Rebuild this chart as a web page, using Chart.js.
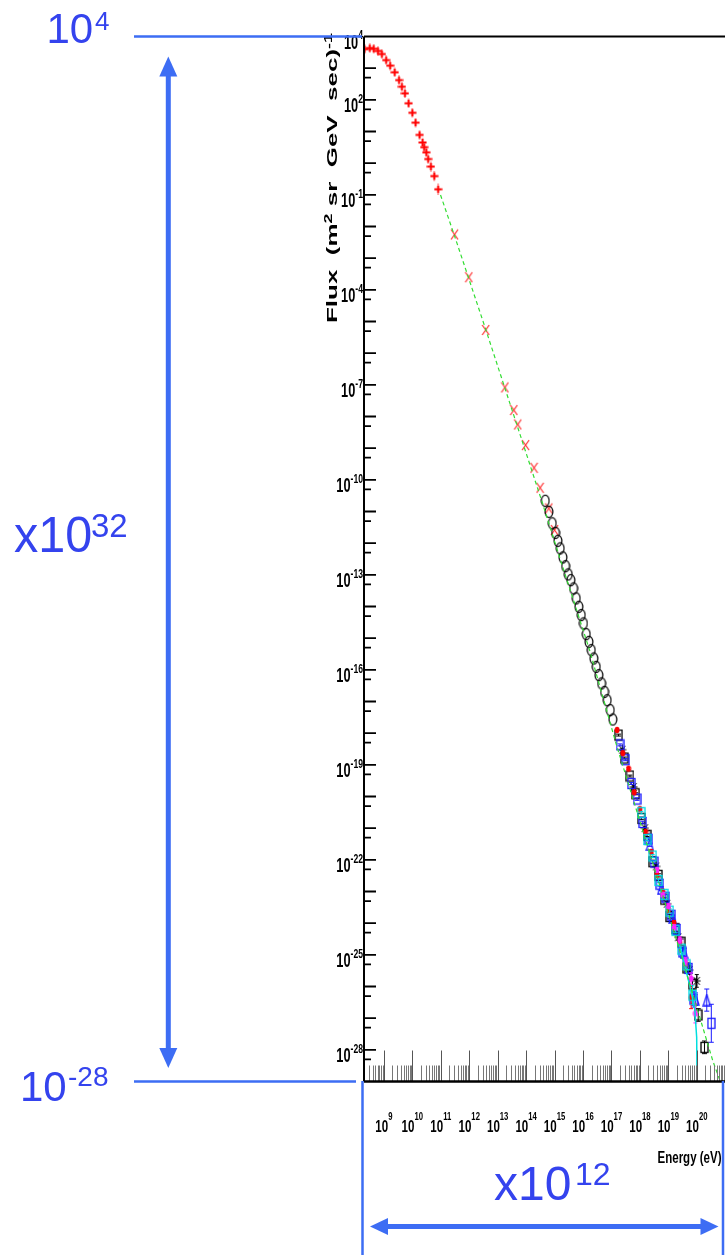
<!DOCTYPE html>
<html>
<head>
<meta charset="utf-8">
<script src="https://cdn.jsdelivr.net/npm/chart.js@4.4.1/dist/chart.umd.min.js"></script>
<style>
  html, body { margin: 0; padding: 0; background: #fff; overflow: hidden; }
  #wrap { position: relative; width: 725px; height: 1255px; }
</style>
</head>
<body>
<div id="wrap"><canvas id="c" width="725" height="1255"></canvas></div>
<script>
// axis ranges
const X_MIN = 2e8, X_MAX = 9.8e20;
const Y_MIN = 1e-29, Y_MAX = 1e4;
const xLabelExps = [9, 10, 11, 12, 13, 14, 15, 16, 17, 18, 19, 20];
const yLabelExps = [4, 2, -1, -4, -7, -10, -13, -16, -19, -22, -25, -28];

// low energy direct measurements (red +)
const lowE = [2.1e8, 3.2e8, 4.4e8, 6.2e8, 8.5e8, 1.2e9, 1.66e9, 2.4e9, 3.4e9, 4.3e9, 5.5e9,
  7.4e9, 1.0e10, 1.3e10, 1.8e10, 2.3e10, 2.6e10, 3.1e10, 3.6e10, 4.5e10, 5.9e10, 8.1e10];
const lowF = [4.0e3, 4.3e3, 4.1e3, 3.5e3, 2.8e3, 1.8e3, 1.2e3, 740, 420, 260, 160,
  78, 39, 19, 7.8, 4.5, 3.2, 2.2, 1.35, 0.78, 0.39, 0.15];
const lowErr = [0.15, 0.15, 0.15, 0.15, 0.15, 0.15, 0.15, 0.15, 0.15, 0.15, 0.15,
  0.15, 0.15, 0.15, 0.15, 0.15, 0.15, 0.15, 0.15, 0.16, 0.16, 0.18];

// red x
const xMarkE = [3.05e11, 9.7e11, 3.8e12, 1.8e13, 3.7e13, 5.1e13, 9.6e13, 1.9e14, 3.1e14, 6.3e14, 1.0e15];
const xMarkF = [5.6e-3, 2.5e-4, 5.4e-6, 8.3e-8, 1.6e-8, 5.6e-9, 1.25e-9, 2.4e-10, 5.6e-11, 1.25e-11, 2.6e-12];

// air shower, open circles
const circE = [4.71e14, 6.31e14, 8.30e14, 1.08e15, 1.31e15, 1.58e15, 1.96e15, 2.44e15, 3.03e15, 3.74e15,
  4.66e15, 5.79e15, 7.14e15, 8.67e15, 1.04e16, 1.30e16, 1.61e16, 1.95e16, 2.40e16, 2.92e16,
  3.61e16, 4.49e16, 5.71e16, 7.11e16, 9.08e16, 1.12e17];
const circF = [2.18e-11, 9.8e-12, 4.22e-12, 2.12e-12, 1.19e-12, 6.84e-13, 3.55e-13, 1.88e-13, 1.03e-13, 6.8e-14,
  3.72e-14, 1.80e-14, 9.8e-15, 5.35e-15, 2.92e-15, 1.34e-15, 7.66e-16, 4.19e-16, 2.29e-16, 1.24e-16,
  6.8e-17, 3.72e-17, 2.02e-17, 1.10e-17, 5.33e-18, 2.71e-18];

// highest energies, several experiments
const blkSqE = [1.78e17, 2.82e17, 4.47e17, 7.08e17, 1.12e18, 1.78e18, 2.82e18, 4.47e18, 7.08e18,
  1.12e19, 1.78e19, 2.82e19, 4.47e19, 7.08e19, 1.12e20, 1.86e20];
const blkSqF = [8.7e-19, 1.64e-19, 4.42e-20, 1.22e-20, 2.04e-21, 5.96e-22, 8.7e-23, 3.24e-23, 5.75e-24,
  1.62e-24, 6.68e-25, 2.51e-25, 3.85e-26, 1.19e-26, 1.26e-27, 1.2e-28];
const blkSqErr = [0.03, 0.03, 0.03, 0.03, 0.04, 0.04, 0.05, 0.05, 0.06, 0.07, 0.08, 0.1, 0.12, 0.15, 0.2, 0.2];

const blkStarE = [2.4e17, 6.0e17, 1.5e18, 3.7e18, 9.0e18, 2.2e19, 5.5e19, 1.0e20];
const blkStarF = [3.0e-19, 2.0e-20, 1.0e-21, 6.2e-23, 4.1e-24, 3.6e-25, 3.3e-26, 1.5e-26];
const blkStarErr = [0.03, 0.03, 0.04, 0.05, 0.07, 0.09, 0.13, 0.2];

const bluSqE = [2.0e17, 3.16e17, 5.01e17, 7.94e17, 1.26e18, 2.0e18, 3.16e18, 5.01e18, 7.94e18,
  1.26e19, 2.0e19, 3.16e19, 5.01e19, 7.94e19, 3.24e20];
const bluSqF = [4.27e-19, 1.45e-19, 2.57e-20, 8.3e-21, 1.51e-21, 4.47e-22, 8.5e-23, 1.70e-23, 6.6e-24,
  1.78e-24, 6.3e-25, 1.23e-25, 3.72e-26, 3.98e-27, 6.9e-28];
const bluSqErr = [0.03, 0.03, 0.03, 0.04, 0.04, 0.05, 0.05, 0.06, 0.08, 0.08, 0.1, 0.12, 0.15, 0.25, 0.6];

const bluTriE = [2.24e18, 5.62e18, 1.41e19, 3.55e19, 8.91e19, 2.24e20];
const bluTriF = [2.99e-22, 1.23e-23, 1.5e-24, 1.19e-25, 3.98e-27, 3.72e-27];
const bluTriErr = [0.05, 0.06, 0.08, 0.12, 0.2, 0.35];

const redE = [1.58e17, 2.51e17, 3.98e17, 6.31e17, 1.0e18, 1.58e18, 2.51e18, 3.98e18, 6.31e18,
  1.0e19, 1.58e19, 2.51e19, 3.98e19, 6.31e19];
const redF = [1.26e-18, 2.34e-19, 7.59e-20, 1.35e-20, 3.98e-21, 7.59e-22, 1.78e-22, 3.39e-23, 1.0e-23,
  2.57e-24, 1.0e-24, 2.34e-25, 5.01e-26, 4.47e-27];
const redErr = [0.03, 0.03, 0.03, 0.03, 0.04, 0.04, 0.05, 0.05, 0.06, 0.07, 0.08, 0.1, 0.15, 0.35];

const cyanE = [1.12e18, 1.78e18, 2.82e18, 4.47e18, 7.08e18, 1.12e19, 1.78e19, 2.82e19, 4.47e19, 7.08e19];
const cyanF = [3.09e-21, 4.42e-22, 1.32e-22, 2.24e-23, 8.13e-24, 2.4e-24, 5.96e-25, 1.51e-25, 4.84e-26, 5.31e-27];
const cyanErr = [0.04, 0.04, 0.05, 0.05, 0.06, 0.07, 0.08, 0.1, 0.15, 0.3];

const magE = [3.98e18, 6.31e18, 1.0e19, 1.58e19, 2.51e19, 3.98e19, 6.31e19, 8.91e19];
const magF = [4.79e-23, 7.94e-24, 3.47e-24, 7.41e-25, 2.95e-25, 6.31e-26, 1.78e-26, 1.41e-27];
const magErr = [0.05, 0.06, 0.07, 0.08, 0.1, 0.12, 0.18, 0.3];

// model curves
const fitE = [9.8e10, 3.06e11, 3.76e12, 3.2e14, 1.5e15, 1.7e16, 1.5e17, 1.34e18, 2.5e19, 3.6e20, 7.4e20];
const fitF = [9.9e-2, 5.0e-3, 5.8e-6, 2.85e-11, 3.6e-13, 4.2e-16, 4.2e-19, 7.0e-22, 1.4e-25, 4.7e-29, 7.7e-30];
const cutE = [2.48e19, 5.6e19, 8.5e19, 9.9e19, 1.02e20, 1.03e20];
const cutF = [2.0e-25, 1.1e-26, 1.9e-27, 2.5e-28, 1e-29, 1e-30];

const zip = (xs, ys) => xs.map((x, i) => ({ x: x, y: ys[i] }));

function marker(w, h, draw) {
  const c = document.createElement("canvas");
  c.width = w;
  c.height = h;
  draw(c.getContext("2d"));
  return c;
}
const ellipseMk = marker(10, 14, (g) => {
  g.strokeStyle = "#000"; g.lineWidth = 1.2;
  g.beginPath(); g.ellipse(5, 7, 3.9, 5.7, 0, 0, Math.PI * 2); g.stroke();
});
const xMk = marker(9, 12, (g) => {
  g.strokeStyle = "#ff2a2a"; g.lineWidth = 1.2;
  g.beginPath(); g.moveTo(1, 1); g.lineTo(8, 11); g.moveTo(8, 1); g.lineTo(1, 11); g.stroke();
});
const plusMk = marker(9, 9, (g) => {
  g.strokeStyle = "#ff0000"; g.lineWidth = 1.8;
  g.beginPath(); g.moveTo(0.5, 4.5); g.lineTo(8.5, 4.5); g.moveTo(4.5, 1); g.lineTo(4.5, 8); g.stroke();
});
const squareMk = (col) => marker(9, 13, (g) => {
  g.strokeStyle = col; g.lineWidth = 1.3; g.strokeRect(1, 1.5, 7, 10);
});
const triMk = (col) => marker(9, 13, (g) => {
  g.strokeStyle = col; g.lineWidth = 1.3;
  g.beginPath(); g.moveTo(4.5, 1); g.lineTo(8, 12); g.lineTo(1, 12); g.closePath(); g.stroke();
});
const dotMk = (col) => marker(6, 8, (g) => {
  g.fillStyle = col;
  g.beginPath(); g.ellipse(3, 4, 2.4, 3.2, 0, 0, Math.PI * 2); g.fill();
});
const starMk = marker(9, 12, (g) => {
  g.strokeStyle = "#000"; g.lineWidth = 1;
  g.beginPath();
  g.moveTo(4.5, 0.5); g.lineTo(4.5, 11.5);
  g.moveTo(0.5, 6); g.lineTo(8.5, 6);
  g.moveTo(1.5, 2); g.lineTo(7.5, 10);
  g.moveTo(7.5, 2); g.lineTo(1.5, 10);
  g.stroke();
});

// vertical error bars, drawn under each dataset's markers
const errorBars = {
  id: "errorBars",
  beforeDatasetDraw(chart, args) {
    const ds = chart.data.datasets[args.index];
    if (!ds.err) return;
    const { ctx, chartArea: a } = chart;
    const y = chart.scales.y;
    ctx.save();
    ctx.beginPath();
    ctx.rect(a.left, a.top, a.right - a.left, a.bottom - a.top);
    ctx.clip();
    ctx.strokeStyle = ds.errColor;
    ctx.lineWidth = ds.errWidth || 1;
    ds.data.forEach((p, i) => {
      const px = args.meta.data[i].x;
      const t = y.getPixelForValue(p.y * Math.pow(10, ds.err[i]));
      const b = y.getPixelForValue(p.y / Math.pow(10, ds.err[i]));
      ctx.beginPath();
      ctx.moveTo(px, t); ctx.lineTo(px, b);
      if (ds.errCap) {
        ctx.moveTo(px - ds.errCap, t); ctx.lineTo(px + ds.errCap, t);
        ctx.moveTo(px - ds.errCap, b); ctx.lineTo(px + ds.errCap, b);
      }
      ctx.stroke();
    });
    ctx.restore();
  },
};

// squeezed text helper: parts [{t, size, dy}]
function partsWidth(ctx, parts, weight, sx) {
  let w = 0;
  parts.forEach((p) => {
    ctx.font = weight + " " + p.size + "px 'Liberation Sans', Arial, sans-serif";
    w += ctx.measureText(p.t).width * sx;
  });
  return w;
}
function drawParts(ctx, parts, x, y, weight, sx) {
  parts.forEach((p) => {
    ctx.font = weight + " " + p.size + "px 'Liberation Sans', Arial, sans-serif";
    ctx.save();
    ctx.translate(x, y + p.dy);
    ctx.scale(sx, 1);
    ctx.fillText(p.t, 0, 0);
    ctx.restore();
    x += ctx.measureText(p.t).width * sx;
  });
}

const frame = {
  id: "frame",
  afterDraw(chart) {
    const { ctx, chartArea: a } = chart;
    const xs = chart.scales.x, ys = chart.scales.y;
    ctx.save();

    // x ticks (pointing up)
    for (let e = 8; e <= 20; e++) {
      for (let m = 1; m <= 9; m++) {
        const v = m * Math.pow(10, e);
        if (v < X_MIN || v > X_MAX) continue;
        const px = Math.round(xs.getPixelForValue(v)) + 0.5;
        ctx.strokeStyle = m === 1 ? "#555" : "#777";
        ctx.lineWidth = 1;
        ctx.beginPath();
        ctx.moveTo(px, a.bottom);
        ctx.lineTo(px, a.bottom - (m === 1 ? 31 : 16));
        ctx.stroke();
      }
    }
    // y ticks (pointing right)
    ctx.strokeStyle = "#000";
    ctx.lineWidth = 1.8;
    for (let e = -28; e <= 3; e++) {
      const py = ys.getPixelForValue(Math.pow(10, e));
      const pm = ys.getPixelForValue(5 * Math.pow(10, e - 1));
      ctx.beginPath();
      ctx.moveTo(a.left, py); ctx.lineTo(a.left + 12, py);
      ctx.moveTo(a.left, pm); ctx.lineTo(a.left + 7, pm);
      ctx.stroke();
    }

    // frame lines
    ctx.strokeStyle = "#000";
    ctx.lineWidth = 2;
    ctx.beginPath();
    ctx.moveTo(a.left, a.top); ctx.lineTo(a.right, a.top);
    ctx.moveTo(a.left, a.top); ctx.lineTo(a.left, a.bottom);
    ctx.stroke();
    ctx.lineWidth = 2.5;
    ctx.beginPath();
    ctx.moveTo(a.left, a.bottom); ctx.lineTo(a.right, a.bottom);
    ctx.stroke();

    // y labels
    ctx.fillStyle = "#000";
    ctx.textBaseline = "middle";
    yLabelExps.forEach((e) => {
      const py = ys.getPixelForValue(Math.pow(10, e));
      const ex = String(e);
      const w10 = partsWidth(ctx, [{ t: "10", size: 20 }], "bold", 0.64);
      const wE = partsWidth(ctx, [{ t: ex, size: 13.5 }], "bold", 0.64);
      const x0 = 363 - w10 - wE;
      drawParts(ctx, [{ t: "10", size: 20, dy: 7 }], x0, py, "bold", 0.64);
      drawParts(ctx, [{ t: ex, size: 13.5, dy: -1 }], x0 + w10, py, "bold", 0.64);
    });

    // x labels
    xLabelExps.forEach((e) => {
      const px = xs.getPixelForValue(Math.pow(10, e));
      const ex = String(e);
      const w10 = partsWidth(ctx, [{ t: "10", size: 16.5 }], "bold", 0.7);
      const wE = partsWidth(ctx, [{ t: ex, size: 11 }], "bold", 0.7);
      const x0 = px - (w10 + wE) / 2;
      drawParts(ctx, [{ t: "10", size: 16.5, dy: 0 }], x0, 1127.5, "bold", 0.7);
      drawParts(ctx, [{ t: ex, size: 11, dy: 0 }], x0 + w10, 1117, "bold", 0.7);
    });

    // axis titles
    ctx.textBaseline = "alphabetic";
    drawParts(ctx, [{ t: "Energy (eV)", size: 16, dy: 0 }], 657.5, 1163, "bold", 0.72);

    const title = [
      { t: "Flux  (m", size: 14.5, dy: 0 },
      { t: "2", size: 10, dy: -5 },
      { t: " sr  GeV  sec)", size: 14.5, dy: 0 },
      { t: "-1", size: 10, dy: -5 },
    ];
    const tw = partsWidth(ctx, title, "bold", 1);
    ctx.save();
    ctx.translate(336.5, 323);
    ctx.rotate(-Math.PI / 2);
    ctx.scale(290 / tw, 1);
    drawParts(ctx, title, 0, 0, "bold", 1);
    ctx.restore();

    ctx.restore();
  },
};

// blue slide annotations
function arrowHead(ctx, x, y, dx, dy, len, half) {
  // tip at (x,y), direction (dx,dy) pointing to the tip
  ctx.beginPath();
  ctx.moveTo(x, y);
  ctx.lineTo(x - dx * len - dy * half, y - dy * len + dx * half);
  ctx.lineTo(x - dx * len + dy * half, y - dy * len - dx * half);
  ctx.closePath();
  ctx.fill();
}
const notes = {
  id: "notes",
  afterDraw(chart) {
    const ctx = chart.ctx;
    const line = "#3d6df4", txt = "#3443ee";
    ctx.save();
    ctx.strokeStyle = line;
    ctx.fillStyle = line;
    ctx.lineWidth = 2.5;
    ctx.beginPath();
    ctx.moveTo(134, 36.5); ctx.lineTo(362, 36.5);
    ctx.moveTo(134, 1081.5); ctx.lineTo(356, 1081.5);
    ctx.moveTo(362.5, 1081); ctx.lineTo(362.5, 1255);
    ctx.moveTo(723, 1081); ctx.lineTo(723, 1255);
    ctx.stroke();

    // vertical double arrow
    ctx.lineWidth = 5;
    ctx.beginPath();
    ctx.moveTo(168.3, 70); ctx.lineTo(168.3, 1054);
    ctx.stroke();
    arrowHead(ctx, 168.3, 56.5, 0, -1, 20, 9);
    arrowHead(ctx, 168.3, 1068, 0, 1, 20, 9);

    // horizontal double arrow
    ctx.beginPath();
    ctx.moveTo(384, 1226.5); ctx.lineTo(704, 1226.5);
    ctx.stroke();
    arrowHead(ctx, 370, 1226.5, -1, 0, 18, 8.5);
    arrowHead(ctx, 718.5, 1226.5, 1, 0, 18, 8.5);

    ctx.fillStyle = txt;
    ctx.textBaseline = "alphabetic";
    drawParts(ctx, [{ t: "10", size: 42, dy: 0 }], 46.5, 43.3, "normal", 1);
    drawParts(ctx, [{ t: "4", size: 26, dy: 0 }], 95, 30, "normal", 1);

    drawParts(ctx, [{ t: "x10", size: 50, dy: 0 }], 14, 551.7, "normal", 0.97);
    drawParts(ctx, [{ t: "32", size: 33, dy: 0 }], 91, 537, "normal", 1);

    drawParts(ctx, [{ t: "10", size: 42, dy: 0 }], 20, 1101, "normal", 1);
    drawParts(ctx, [{ t: "-28", size: 28, dy: 0 }], 68, 1086, "normal", 1);

    drawParts(ctx, [{ t: "x10", size: 48, dy: 0 }], 494, 1200, "normal", 1);
    drawParts(ctx, [{ t: "12", size: 32, dy: 0 }], 575, 1185, "normal", 1);
    ctx.restore();
  },
};

const ctx = document.getElementById("c").getContext("2d");
new Chart(ctx, {
  type: "scatter",
  data: {
    datasets: [
      {
        label: "fit", data: zip(fitE, fitF), showLine: true, pointRadius: 0,
        borderColor: "#33dd33", borderWidth: 1.2, borderDash: [4, 3],
      },
      {
        label: "cutoff", data: zip(cutE, cutF), showLine: true, pointRadius: 0,
        borderColor: "#00dede", borderWidth: 1.5,
      },
      { label: "magenta", data: zip(magE, magF), pointStyle: dotMk("#ff22ff"), err: magErr, errColor: "#ff22ff", errCap: 2 },
      { label: "cyan", data: zip(cyanE, cyanF), pointStyle: squareMk("#00d8e0"), err: cyanErr, errColor: "#00d8e0", errCap: 2 },
      { label: "red", data: zip(redE, redF), pointStyle: dotMk("#ff0000"), err: redErr, errColor: "#ff0000", errCap: 2 },
      { label: "blue tri", data: zip(bluTriE, bluTriF), pointStyle: triMk("#1a1aff"), err: bluTriErr, errColor: "#1a1aff", errCap: 2.5 },
      { label: "blue sq", data: zip(bluSqE, bluSqF), pointStyle: squareMk("#1a1aff"), err: bluSqErr, errColor: "#1a1aff", errCap: 2.5 },
      { label: "black star", data: zip(blkStarE, blkStarF), pointStyle: starMk, err: blkStarErr, errColor: "#000", errCap: 2 },
      { label: "black sq", data: zip(blkSqE, blkSqF), pointStyle: squareMk("#000"), err: blkSqErr, errColor: "#000", errCap: 2.5 },
      { label: "circles", data: zip(circE, circF), pointStyle: ellipseMk },
      { label: "x", data: zip(xMarkE, xMarkF), pointStyle: xMk },
      {
        label: "direct", data: zip(lowE, lowF), pointStyle: plusMk,
        err: lowErr, errColor: "#ffa0a0", errWidth: 2,
      },
    ],
  },
  options: {
    responsive: false,
    animation: false,
    events: [],
    layout: { autoPadding: false, padding: { left: 364, top: 36.5, right: 0, bottom: 173.5 } },
    plugins: { legend: { display: false }, tooltip: { enabled: false } },
    scales: {
      x: { type: "logarithmic", min: X_MIN, max: X_MAX, display: false },
      y: { type: "logarithmic", min: Y_MIN, max: Y_MAX, display: false },
    },
  },
  plugins: [errorBars, frame, notes],
});
</script>
</body>
</html>
